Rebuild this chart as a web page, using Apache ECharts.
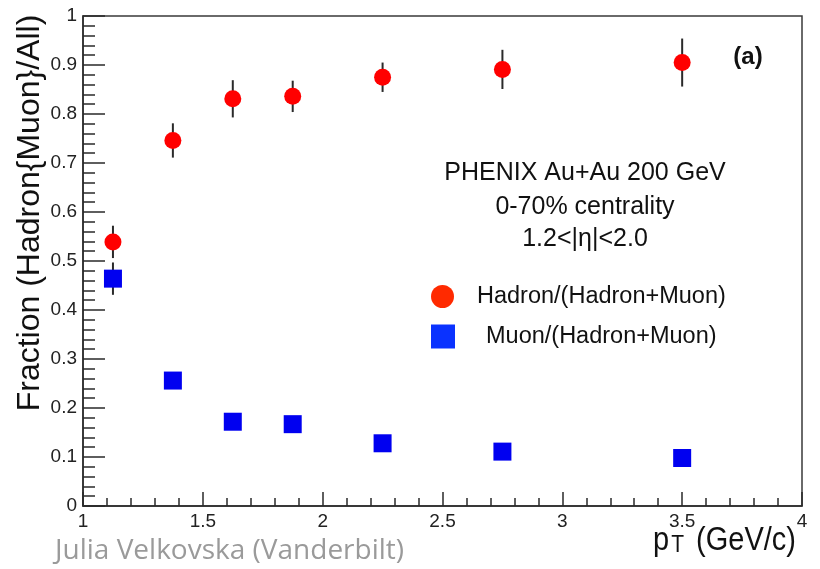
<!DOCTYPE html>
<html>
<head>
<meta charset="utf-8">
<script src="https://cdn.jsdelivr.net/npm/echarts@6/dist/echarts.min.js"></script>
<style>html,body{margin:0;padding:0;background:#fff}#c{width:820px;height:569px}</style>
</head>
<body>
<div id="c"></div>
<script>
const pt = [1.125, 1.375, 1.625, 1.875, 2.25, 2.75, 3.5];
const hadron = [0.539, 0.746, 0.831, 0.836, 0.875, 0.891, 0.905];
const hadronErr = [0.033, 0.035, 0.038, 0.032, 0.030, 0.040, 0.049];
const muon = [0.464, 0.256, 0.172, 0.167, 0.128, 0.111, 0.098];
const muonErr = [0.033, 0, 0, 0, 0, 0, 0];
const hadronName = 'Hadron/(Hadron+Muon)';
const muonName = 'Muon/(Hadron+Muon)';
const xTitle = '{m|p}{sub|T}{m| (GeV/c)}';
const yTitle = 'Fraction (Hadron{Muon}/All)';
const annotation = ['PHENIX Au+Au 200 GeV', '0-70% centrality', '1.2<|η|<2.0'];

const F = '"Liberation Sans", Arial, Helvetica, sans-serif';
const chart = echarts.init(document.getElementById('c'), null, {renderer: 'canvas'});

function errData(xs, ys, es) {
  return xs.map((x, i) => [x, ys[i], es[i]]).filter(d => d[2] > 0);
}
function renderErr(params, api) {
  const x = api.value(0), y = api.value(1), e = api.value(2);
  const p1 = api.coord([x, y - e]);
  const p2 = api.coord([x, y + e]);
  return {type: 'line', shape: {x1: p1[0], y1: p1[1], x2: p2[0], y2: p2[1]},
          style: {stroke: '#2a2a2a', lineWidth: 2}};
}

chart.setOption({
  animation: false,
  grid: {left: 83, right: 18, top: 16, bottom: 63, show: true, borderColor: '#3a3a3a', borderWidth: 1.5,
         containLabel: false, outerBoundsMode: 'none'},
  xAxis: {
    type: 'value', min: 1, max: 4, interval: 0.5,
    axisLine: {show: true, lineStyle: {color: '#2a2a2a', width: 1.5}},
    axisTick: {show: true, inside: true, length: 14, lineStyle: {color: '#2a2a2a', width: 1.5}},
    minorTick: {show: true, splitNumber: 5, length: 8, lineStyle: {color: '#2a2a2a', width: 1.5}},
    splitLine: {show: false},
    axisLabel: {fontFamily: F, fontSize: 19, color: '#222', margin: 6}
  },
  yAxis: {
    type: 'value', min: 0, max: 1, interval: 0.1,
    axisLine: {show: true, lineStyle: {color: '#2a2a2a', width: 1.5}},
    axisTick: {show: true, inside: true, length: 22, lineStyle: {color: '#2a2a2a', width: 1.5}},
    minorTick: {show: true, splitNumber: 5, length: 12, lineStyle: {color: '#2a2a2a', width: 1.5}},
    splitLine: {show: false},
    axisLabel: {fontFamily: F, fontSize: 19, color: '#222', margin: 6}
  },
  legend: [
    {data: [{name: hadronName, itemStyle: {color: '#ff2a00'}}], left: 431, top: 284.5, padding: 0, orient: 'vertical',
     icon: 'circle', itemWidth: 23, itemHeight: 23,
     textStyle: {fontFamily: F, fontSize: 23.5, color: '#111', padding: [0, 0, 0, 18]}},
    {data: [{name: muonName, itemStyle: {color: '#0a32ff'}}], left: 431, top: 324.5, padding: 0, orient: 'vertical',
     icon: 'rect', itemWidth: 24, itemHeight: 24,
     textStyle: {fontFamily: F, fontSize: 23.5, color: '#111', padding: [0, 0, 0, 26]}}
  ],
  graphic: [
    {type: 'text', x: 30, y: 213, rotation: Math.PI / 2,
     style: {text: yTitle, font: '32px ' + F, fill: '#111', textAlign: 'center', textVerticalAlign: 'middle'}},
    {type: 'text', x: 796, y: 541, scaleY: 1.12,
     style: {text: xTitle, fill: '#111', textAlign: 'right', textVerticalAlign: 'middle',
       rich: {
         m: {fontFamily: F, fontSize: 29, color: '#111', verticalAlign: 'middle'},
         sub: {fontFamily: F, fontSize: 21, color: '#111', verticalAlign: 'middle', padding: [8, 4, 0, 2]}
       }}},
    {type: 'text', x: 585, y: 173, style: {text: annotation[0], font: '25px ' + F, fill: '#111', textAlign: 'center', textVerticalAlign: 'middle'}},
    {type: 'text', x: 585, y: 207, style: {text: annotation[1], font: '25px ' + F, fill: '#111', textAlign: 'center', textVerticalAlign: 'middle'}},
    {type: 'text', x: 585, y: 239, style: {text: annotation[2], font: '25px ' + F, fill: '#111', textAlign: 'center', textVerticalAlign: 'middle'}},
    {type: 'text', x: 748, y: 57, style: {text: '(a)', font: 'bold 24px ' + F, fill: '#111', textAlign: 'center', textVerticalAlign: 'middle'}},
    {type: 'text', x: 55, y: 551, style: {text: 'Julia Velkovska (Vanderbilt)', font: '28px "Open Sans", sans-serif', fill: '#9a9a9a', textAlign: 'left', textVerticalAlign: 'middle'}}
  ],
  series: [
    {type: 'custom', name: 'hadronErr', renderItem: renderErr, data: errData(pt, hadron, hadronErr), z: 1, silent: true},
    {type: 'custom', name: 'muonErr', renderItem: renderErr, data: errData(pt, muon, muonErr), z: 1, silent: true},
    {type: 'scatter', name: hadronName, data: pt.map((x, i) => [x, hadron[i]]), symbol: 'circle', symbolSize: 17,
     itemStyle: {color: '#ff0000', opacity: 1}, z: 3},
    {type: 'scatter', name: muonName, data: pt.map((x, i) => [x, muon[i]]), symbol: 'rect', symbolSize: 18,
     itemStyle: {color: '#0000f0', opacity: 1}, z: 3}
  ]
});
</script>
</body>
</html>
